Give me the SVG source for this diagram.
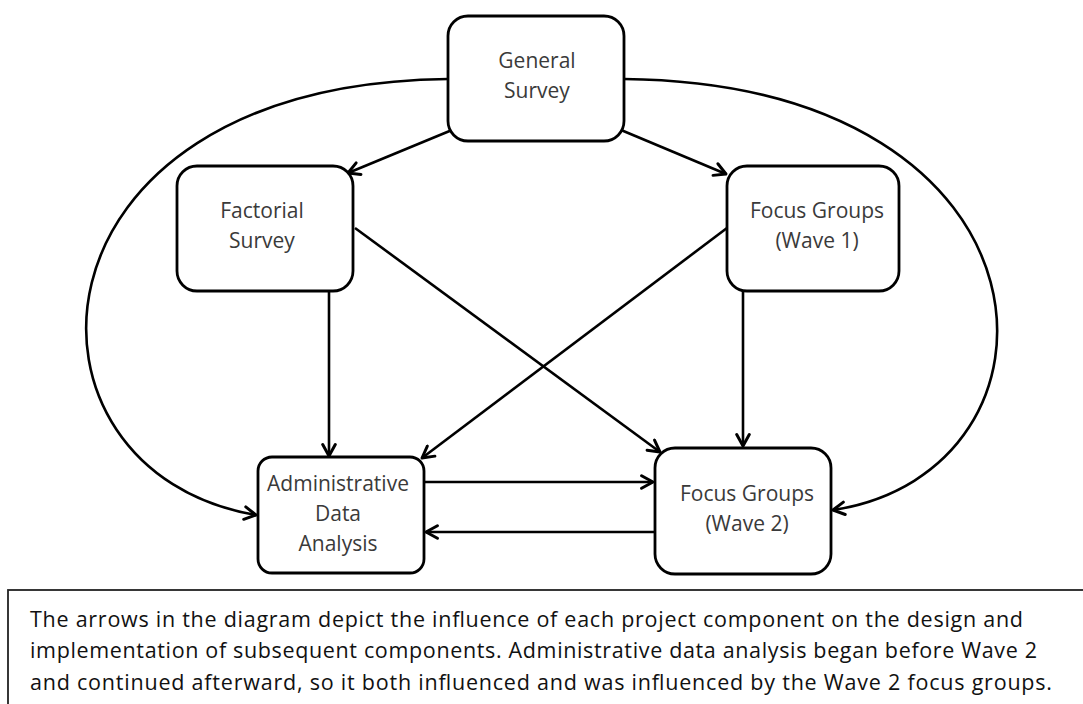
<svg xmlns="http://www.w3.org/2000/svg" width="1083" height="704" viewBox="0 0 1083 704">
<style>
.box{fill:#fff;stroke:#000;stroke-width:2.8}
.lbl{font-family:"Open Sans","Noto Sans",sans-serif;font-size:21px;fill:#3a3a3a;text-anchor:middle}
.con{fill:none;stroke:#000;stroke-width:2.6;marker-end:url(#arr)}
.cap{font-family:"Open Sans","Noto Sans",sans-serif;font-size:21.5px;fill:#111}
</style>
<defs>
<marker id="arr" markerUnits="userSpaceOnUse" markerWidth="16" markerHeight="16" viewBox="0 0 14 14" refX="12" refY="7" orient="auto">
<path d="M2,1.5 L12,7 L2,12.5" fill="none" stroke="#000" stroke-width="2.6" stroke-linecap="round" stroke-linejoin="round"/>
</marker>
</defs>
<rect width="1083" height="704" fill="#fff"/>
<g id="connectors">
<path class="con" d="M452,130 L348,173"/>
<path class="con" d="M621,130 L726,174"/>
<path class="con" d="M448,79 C10,84 0,472 256,515"/>
<path class="con" d="M624,79 C1073,84 1083,472 833,510"/>
<path class="con" d="M329,291 L329,456"/>
<path class="con" d="M743,291 L743,446"/>
<path class="con" d="M355,228 L660,452"/>
<path class="con" d="M727,228 L422,458"/>
<path class="con" d="M424,482 L653,482"/>
<path class="con" d="M655,532 L426,532"/>
</g>
<g id="general-survey">
<rect class="box" x="448" y="16" width="176" height="125" rx="20"/>
<text class="lbl" x="537" y="68">General</text>
<text class="lbl" x="537" y="98">Survey</text>
</g>
<g id="factorial-survey">
<rect class="box" x="177" y="166" width="176" height="125" rx="20"/>
<text class="lbl" x="262" y="218">Factorial</text>
<text class="lbl" x="262" y="248">Survey</text>
</g>
<g id="focus-wave1">
<rect class="box" x="727" y="166" width="172" height="125" rx="20"/>
<text class="lbl" x="817" y="218">Focus Groups</text>
<text class="lbl" x="817" y="248">(Wave 1)</text>
</g>
<g id="admin-data">
<rect class="box" x="258" y="457" width="166" height="116" rx="14"/>
<text class="lbl" x="338" y="491">Administrative</text>
<text class="lbl" x="338" y="521">Data</text>
<text class="lbl" x="338" y="551">Analysis</text>
</g>
<g id="focus-wave2">
<rect class="box" x="655" y="448" width="176" height="126" rx="20"/>
<text class="lbl" x="747" y="501">Focus Groups</text>
<text class="lbl" x="747" y="531">(Wave 2)</text>
</g>
<g id="caption">
<rect x="8" y="590" width="1100" height="140" fill="none" stroke="#222" stroke-width="1.8"/>
<text class="cap" x="30" y="627" textLength="993" lengthAdjust="spacing">The arrows in the diagram depict the influence of each project component on the design and</text>
<text class="cap" x="30" y="658" textLength="1007" lengthAdjust="spacing">implementation of subsequent components. Administrative data analysis began before Wave 2</text>
<text class="cap" x="30" y="690" textLength="1022" lengthAdjust="spacing">and continued afterward, so it both influenced and was influenced by the Wave 2 focus groups.</text>
</g>
</svg>
